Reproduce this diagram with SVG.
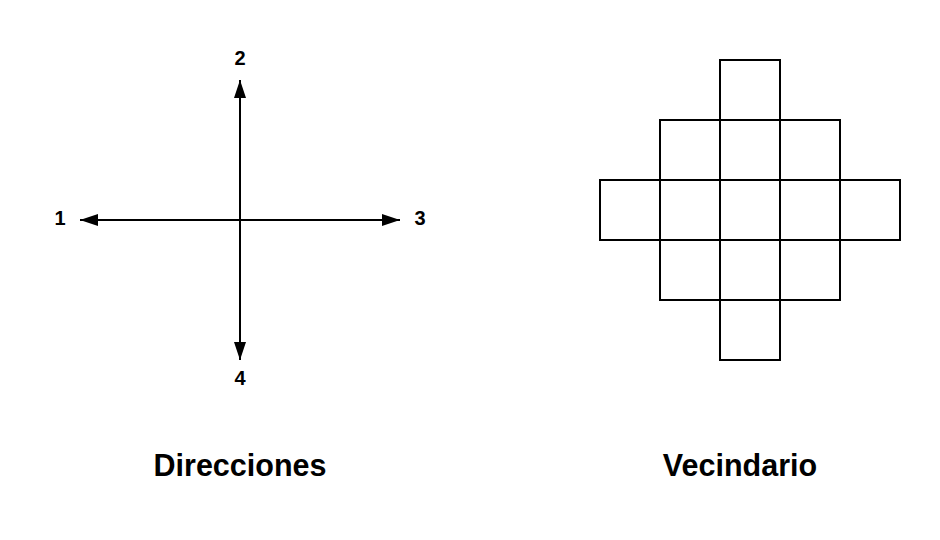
<svg xmlns="http://www.w3.org/2000/svg" width="940" height="540" viewBox="0 0 940 540">
<style>
.lbl{font-family:"Liberation Sans",Arial,sans-serif;font-weight:bold;fill:#000;text-anchor:middle}
.num{font-size:20px}
.title{font-size:30.5px}
.cell{fill:#fff;stroke:#000;stroke-width:2}
.ax{stroke:#000;stroke-width:2;fill:none}
</style>
<defs>
<marker id="ah" viewBox="0 0 18 12" refX="18" refY="6" markerWidth="18" markerHeight="12" markerUnits="userSpaceOnUse" orient="auto">
<path d="M0,0 L18,6 L0,12 Z" fill="#000"/>
</marker>
</defs>
<rect width="940" height="540" fill="#fff"/>
<g id="connectors">
<line class="ax" x1="240" y1="220" x2="80" y2="220" marker-end="url(#ah)"/>
<line class="ax" x1="240" y1="220" x2="400" y2="220" marker-end="url(#ah)"/>
<line class="ax" x1="240" y1="220" x2="240" y2="80" marker-end="url(#ah)"/>
<line class="ax" x1="240" y1="220" x2="240" y2="360" marker-end="url(#ah)"/>
</g>
<g id="label-1"><text class="lbl num" x="60" y="225">1</text></g>
<g id="label-2"><text class="lbl num" x="240" y="65">2</text></g>
<g id="label-3"><text class="lbl num" x="420" y="225">3</text></g>
<g id="label-4"><text class="lbl num" x="240" y="385">4</text></g>
<g id="grid">
<rect class="cell" x="720" y="60" width="60" height="60"/>
<rect class="cell" x="660" y="120" width="60" height="60"/>
<rect class="cell" x="720" y="120" width="60" height="60"/>
<rect class="cell" x="780" y="120" width="60" height="60"/>
<rect class="cell" x="600" y="180" width="60" height="60"/>
<rect class="cell" x="660" y="180" width="60" height="60"/>
<rect class="cell" x="720" y="180" width="60" height="60"/>
<rect class="cell" x="780" y="180" width="60" height="60"/>
<rect class="cell" x="840" y="180" width="60" height="60"/>
<rect class="cell" x="660" y="240" width="60" height="60"/>
<rect class="cell" x="720" y="240" width="60" height="60"/>
<rect class="cell" x="780" y="240" width="60" height="60"/>
<rect class="cell" x="720" y="300" width="60" height="60"/>
</g>
<g id="title-direcciones"><text class="lbl title" x="240" y="476">Direcciones</text></g>
<g id="title-vecindario"><text class="lbl title" x="740" y="476">Vecindario</text></g>
</svg>
